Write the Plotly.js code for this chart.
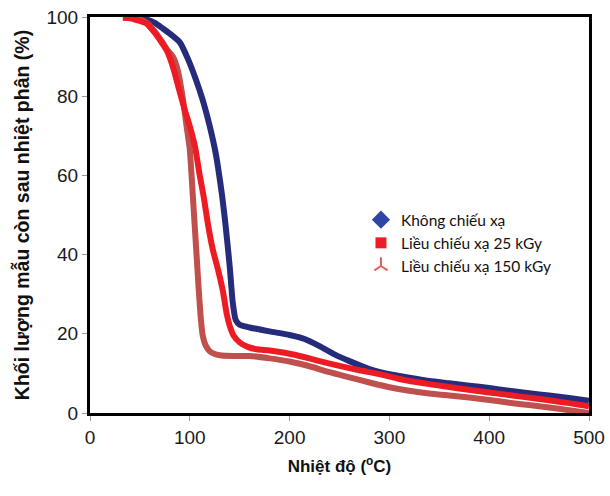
<!DOCTYPE html>
<html>
<head>
<meta charset="utf-8">
<script src="https://cdn.plot.ly/plotly-3.0.1.min.js"></script>
<style>html,body{margin:0;padding:0;background:#fff;}#chart{width:610px;height:496px;}</style>
</head>
<body>
<div id="chart"></div>
<script>
const seriesNames = ["Không chiếu xạ", "Liều chiếu xạ 25 kGy", "Liều chiếu xạ 150 kGy"];

const blueX = [35,45,55,65,73,80,90,98,106,113,120,126,132,136,140,143,146,150,160,180,200,215,230,245,260,280,300,320,340,360,380,400,420,440,460,480,500];
const blueY = [100,99.9,99.5,98.5,97.1,95.8,93.6,89.5,84.3,79,72.4,65.5,55.5,47,37,28,23.5,22.3,21.6,20.6,19.7,18.7,16.9,14.8,13.1,11.1,9.8,8.9,8.1,7.5,6.9,6.3,5.6,5,4.4,3.8,3.1];

const redX = [33,40,50,57,65,72,77,83,90,95,100,105,110,114,118,123,128,133,137,140,144,150,158,167,180,195,210,220,230,250,270,290,310,340,370,400,430,460,480,500];
const redY = [99.8,99.7,99,98.3,96,93.5,91.5,87.5,81,76.5,72.4,67.5,60,54.5,48,41.3,36.5,31,25,22,19.5,17.8,16.7,16.1,15.8,15.2,14.4,13.8,13.1,11.9,10.8,9.8,8.6,7.3,6.2,5.2,4.2,3.2,2.5,1.7];

const brownX = [33,40,50,58,65,72,78,83,88,93,97,100,103,105,107,109,111,113,116,120,125,132,145,160,180,200,220,240,260,280,300,320,340,360,380,400,420,440,460,480,500];
const brownY = [100,99.9,99.4,98.3,96.3,93.8,91.5,90,86.5,79.5,72,66.5,55,47,39,31,24,19.5,17,15.6,14.9,14.5,14.4,14.4,13.8,13,11.8,10.3,9,7.7,6.5,5.6,4.9,4.4,3.9,3.3,2.6,2,1.4,0.7,0];

const xTicks = [0,100,200,300,400,500];
const yTicks = [0,20,40,60,80,100];

const lineW = 6;
const traces = [
  {x: blueX, y: blueY, mode: 'lines', line: {color: '#262c7c', width: lineW, shape: 'spline', smoothing: 0.6}, showlegend: false, hoverinfo: 'skip'},
  {x: brownX, y: brownY, mode: 'lines', line: {color: '#c0504d', width: lineW, shape: 'spline', smoothing: 0.6}, showlegend: false, hoverinfo: 'skip'},
  {x: redX, y: redY, mode: 'lines', line: {color: '#ed1c24', width: lineW, shape: 'spline', smoothing: 0.6}, showlegend: false, hoverinfo: 'skip'},
  {x: [null], y: [null], name: seriesNames[0], mode: 'markers', marker: {symbol: 'diamond', size: 14, color: '#2e45a5'}},
  {x: [null], y: [null], name: seriesNames[1], mode: 'markers', marker: {symbol: 'square', size: 11, color: '#ee1c25'}},
  {x: [null], y: [null], name: seriesNames[2], mode: 'markers', marker: {symbol: 'y-up', size: 11, color: '#e0605e', line: {color: '#e0605e', width: 2}}}
];

const tickFont = {family: '"Liberation Sans Narrow", "Arial Narrow", "Liberation Sans", sans-serif', size: 19, color: '#1a1a1a'};

const layout = {
  width: 610, height: 496,
  margin: {l: 90, r: 21, t: 17, b: 83},
  paper_bgcolor: '#fff', plot_bgcolor: '#fff',
  showlegend: true,
  legend: {x: 0.543, y: 0.53, xanchor: 'left', yanchor: 'top', bgcolor: 'rgba(0,0,0,0)',
           font: {family: 'Lato, "Noto Sans", sans-serif', size: 15.5, color: '#111'}, itemwidth: 30, tracegroupgap: 0},
  xaxis: {
    range: [0, 500], tickvals: xTicks, ticktext: xTicks.map(String),
    showgrid: false, zeroline: false, showline: true, linecolor: '#000', linewidth: 3, mirror: true,
    ticks: 'outside', ticklen: 5, tickcolor: '#999', tickwidth: 1,
    tickfont: tickFont,
    title: {text: '<b>Nhiệt độ (<sup>o</sup>C)</b>', font: {family: '"Liberation Sans", Arial, sans-serif', size: 17, color: '#111'}, standoff: 14}
  },
  yaxis: {
    range: [0, 100], tickvals: yTicks, ticktext: yTicks.map(String),
    showgrid: false, zeroline: false, showline: true, linecolor: '#000', linewidth: 3, mirror: true,
    ticks: 'outside', ticklen: 5, tickcolor: '#999', tickwidth: 1,
    tickfont: tickFont,
    title: {text: '<b>Khối lượng mẫu còn sau nhiệt phân (%)</b>', font: {family: '"Liberation Sans", Arial, sans-serif', size: 19.5, color: '#111'}, standoff: 12}
  }
};

Plotly.newPlot('chart', traces, layout, {displayModeBar: false, staticPlot: true});
</script>
</body>
</html>
